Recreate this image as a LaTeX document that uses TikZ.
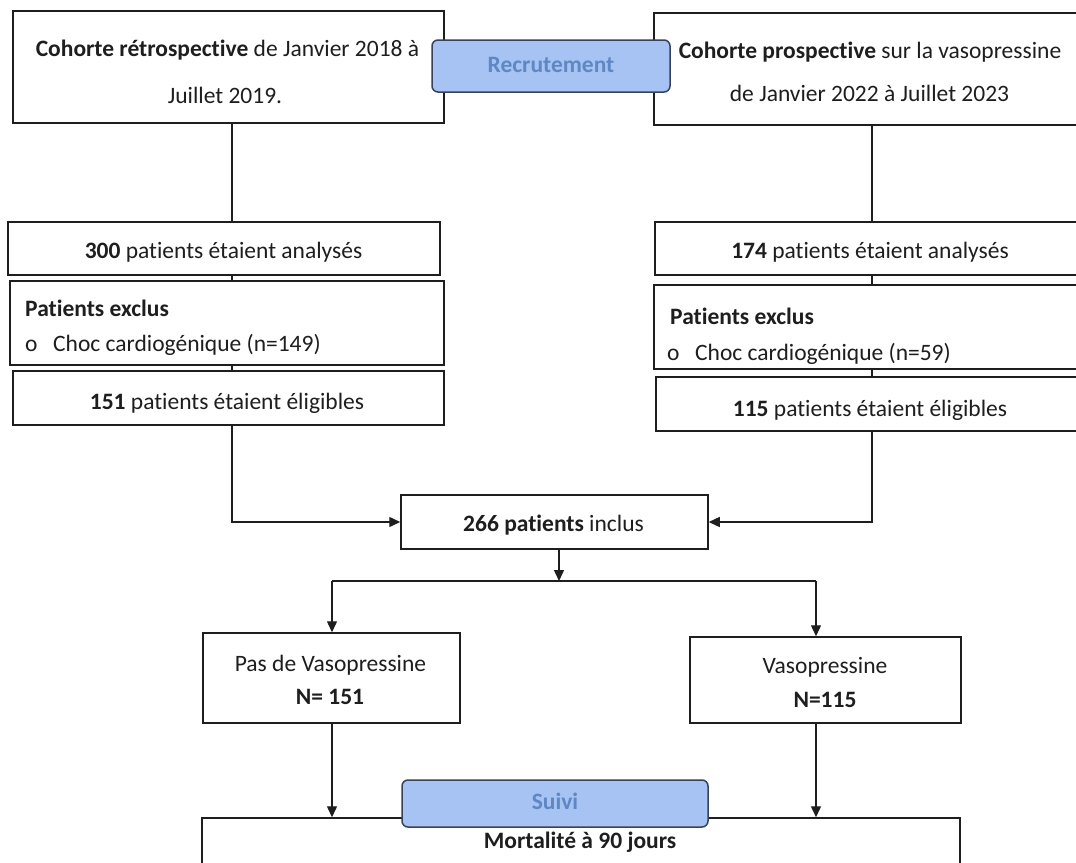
\documentclass[tikz,border=0pt]{standalone}
\usepackage{fontspec}
\setmainfont{Carlito}[Ligatures={NoCommon}]
\usetikzlibrary{arrows.meta}
\definecolor{tagfill}{HTML}{A6C3F3}
\definecolor{tagtext}{HTML}{5F87C3}
\definecolor{tagedge}{HTML}{38425A}
\definecolor{ink}{HTML}{1E1E1E}
\begin{document}
\begin{tikzpicture}[x=1pt,y=-1pt,
  box/.style={draw=ink,line width=1.5pt,rectangle,inner sep=0pt,fill=white},
  tag/.style={draw=tagedge,fill=tagfill,line width=1.5pt,rounded corners=6pt,inner sep=0pt,
    text=tagtext,font=\fontsize{23.5}{28}\selectfont\bfseries,text height=17pt,text depth=5pt},
  txt/.style={text=ink,font=\fontsize{23.5}{28}\selectfont,inner sep=0pt,text height=17pt,text depth=5pt},
  link/.style={draw=ink,line width=1.4pt},
  arr/.style={link,-{Triangle[length=11pt,width=10pt]}}]
\clip (0,0) rectangle (1076,862);
\fill[white] (0,0) rectangle (1076,862);
\coordinate (L) at (232,0);
\coordinate (R) at (872,0);
\coordinate (M) at (559,0);
\coordinate (PL) at (332,0);
\coordinate (PR) at (816,0);
\coordinate (J) at (559,581);

% boxes
\node[box,minimum width=431pt,minimum height=112pt] (tl) at (228.5,67) {};
\node[box,minimum width=436pt,minimum height=112pt] (tr) at (872,69) {};
\node[tag,minimum width=238pt,minimum height=52pt] (rec) at (551,66) {Recrutement};

\node[box,minimum width=432pt,minimum height=53pt] (a300) at (224,248.5) {};
\node[box,minimum width=434pt,minimum height=84pt] (ex1) at (227,323) {};
\node[box,minimum width=431pt,minimum height=54pt] (e151) at (228.5,398) {};

\node[box,minimum width=435pt,minimum height=53pt] (a174) at (872.5,248.5) {};
\node[box,minimum width=436pt,minimum height=84pt] (ex2) at (872,327) {};
\node[box,minimum width=434pt,minimum height=54pt] (e115) at (873,404) {};

\node[box,minimum width=307pt,minimum height=54pt] (inc) at (554.5,522) {};
\node[box,minimum width=257pt,minimum height=90pt] (pas) at (331.5,678) {};
\node[box,minimum width=271pt,minimum height=86pt] (vaso) at (825.5,680) {};
\node[box,minimum width=758pt,minimum height=90pt] (mort) at (581,863) {};

% texts
\node[txt] (tl1) at (227.5,50) {\textbf{Cohorte rétrospective} de Janvier 2018 à};
\node[txt] (tl2) at (225,97) {Juillet 2019.};
\node[txt] (tr1) at (870,52) {\textbf{Cohorte prospective} sur la vasopressine};
\node[txt] (tr2) at (869.5,95) {de Janvier 2022 à Juillet 2023};

\node[txt] (t300) at (223.5,252) {\textbf{300} patients étaient analysés};
\node[txt,anchor=west] (x1a) at (25,310) {\textbf{Patients exclus}};
\node[txt,anchor=west] (x1o) at (25,345) {o};
\node[txt,anchor=west] (x1b) at (53,345) {Choc cardiogénique (n=149)};
\node[txt] (t151) at (227,403) {\textbf{151} patients étaient éligibles};

\node[txt] (t174) at (870,252) {\textbf{174} patients étaient analysés};
\node[txt,anchor=west] (x2a) at (670,318) {\textbf{Patients exclus}};
\node[txt,anchor=west] (x2o) at (667,354) {o};
\node[txt,anchor=west] (x2b) at (695,354) {Choc cardiogénique (n=59)};
\node[txt] (t115) at (870,410) {\textbf{115} patients étaient éligibles};

\node[txt] (t266) at (553.5,525) {\textbf{266 patients} inclus};
\node[txt] (tp1) at (330.5,665) {Pas de Vasopressine};
\node[txt] (tp2) at (330,698) {\textbf{N= 151}};
\node[txt] (tv1) at (825,667) {Vasopressine};
\node[txt] (tv2) at (825,701) {\textbf{N=115}};
\node[txt] (tm) at (580,842) {\textbf{Mortalité à 90 jours}};

% connectors
\draw[link] (tl.south -| L) -- (a300.north -| L);
\draw[link] (a300.south -| L) -- (ex1.north -| L);
\draw[link] (ex1.south -| L) -- (e151.north -| L);
\draw[link] (tr.south -| R) -- (a174.north -| R);
\draw[link] (a174.south -| R) -- (ex2.north -| R);
\draw[link] (ex2.south -| R) -- (e115.north -| R);

\draw[arr] (e151.south -| L) |- (inc.west);
\draw[arr] (e115.south -| R) |- (inc.east);
\draw[arr] (inc.south -| M) -- (J);
\draw[link] (J -| PL) -- (J -| PR);
\draw[arr] (J -| PL) -- (pas.north -| PL);
\draw[arr] (J -| PR) -- (vaso.north -| PR);
\draw[arr] (pas.south -| PL) -- (mort.north -| PL);
\draw[arr] (vaso.south -| PR) -- (mort.north -| PR);

\node[tag,minimum width=306pt,minimum height=47pt] (suivi) at (555,803.5) {Suivi};
\end{tikzpicture}
\end{document}
